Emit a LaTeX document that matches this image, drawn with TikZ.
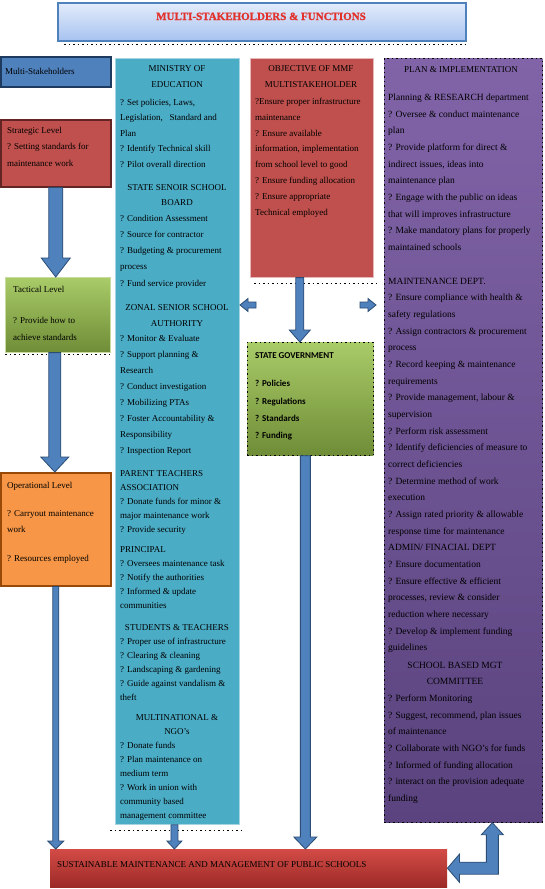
\documentclass[tikz,border=0pt]{standalone}
\usepackage{fontspec}
\setmainfont{Liberation Serif}
\newfontfamily\calib{Carlito}
\newfontfamily\headfont[FakeBold=1.2]{Liberation Serif}
\usetikzlibrary{calc}
\definecolor{titletop}{HTML}{E3ECFB}
\definecolor{titlebot}{HTML}{A7C3F0}
\definecolor{titleedge}{HTML}{4F81BD}
\definecolor{titlered}{HTML}{E2322B}
\definecolor{msblue}{HTML}{4F81BD}
\definecolor{msedge}{HTML}{1F3A5F}
\definecolor{redfill}{HTML}{C0504D}
\definecolor{rededge}{HTML}{632523}
\definecolor{redlight}{HTML}{E6B9B8}
\definecolor{greentop}{HTML}{A9CB68}
\definecolor{greenbot}{HTML}{6F8D37}
\definecolor{greenedge}{HTML}{C8DCA0}
\definecolor{orangefill}{HTML}{F79646}
\definecolor{orangeedge}{HTML}{984807}
\definecolor{cyanfill}{HTML}{4BACC6}
\definecolor{cyanedge}{HTML}{A5D5E2}
\definecolor{purptop}{HTML}{8164A8}
\definecolor{purpbot}{HTML}{5A437E}
\definecolor{bartop}{HTML}{D34B46}
\definecolor{barbot}{HTML}{9C2A27}
\definecolor{arrowfill}{HTML}{4F81BD}
\definecolor{arrowedge}{HTML}{2B4C74}
\newcommand\vblockarrow[5]{%
  \path[blockarrow] let \p1=(#1), \p2=(#2) in
    (\x1-#3,\y1) -- (\x1-#3,\y2+#5) -- (\x1-#4,\y2+#5) -- (\x1,\y2)
    -- (\x1+#4,\y2+#5) -- (\x1+#3,\y2+#5) -- (\x1+#3,\y1) -- cycle;}
\begin{document}
\begin{tikzpicture}[x=1pt,y=-1pt,
  boxnode/.style={rectangle, inner sep=0pt, anchor=north west},
  txt/.style={inner sep=0pt, anchor=north west, yshift=6.1pt, align=left, font=\fontsize{9}{#1}\selectfont},
  txt/.default=16,
  ctxt/.style={inner sep=0pt, anchor=north, yshift=6.1pt, align=center, font=\fontsize{9}{#1}\selectfont},
  ctxt/.default=16,
  stxt/.style={inner sep=0pt, anchor=base west, font=\fontsize{9}{12}\selectfont},
  sctxt/.style={inner sep=0pt, anchor=base, font=\fontsize{9}{12}\selectfont},
  rtxt/.style={inner sep=0pt, anchor=north west, yshift=6.4pt, align=left, font=\fontsize{9.5}{16.67}\selectfont},
  rctxt/.style={inner sep=0pt, anchor=north, yshift=6.4pt, align=center, font=\fontsize{9.5}{16.67}\selectfont},
  gtxt/.style={inner sep=0pt, anchor=north west, yshift=5.8pt, align=left, font=\calib\bfseries\fontsize{9}{17.3}\selectfont},
  dotline/.style={draw=black, line width=0.7pt, dash pattern=on 1.5pt off 3pt},
  blockarrow/.style={fill=arrowfill, draw=arrowedge, line width=0.8pt, line join=miter},
]
\fill[white] (0,0) rectangle (544,889);
\useasboundingbox (0,0) rectangle (544,889);

% ---------- title
\node[boxnode, minimum width=408pt, minimum height=38pt, top color=titletop, bottom color=titlebot, draw=titleedge, line width=1.5pt] (title) at (57,2) {};
\node[inner sep=0pt, anchor=base, font=\headfont\fontsize{11}{13}\selectfont\bfseries, text=titlered] (titletext) at (261,20) {MULTI-STAKEHOLDERS \& FUNCTIONS};
\draw[dotline] ([xshift=7pt,yshift=-3pt]title.south west) -- ([yshift=-3pt]title.south east);

% ---------- left column
\node[boxnode, minimum width=110pt, minimum height=30pt, fill=msblue, draw=msedge, line width=1.5pt] (ms) at (0,56) {};
\node[stxt] (mstext) at (5,74) {Multi-Stakeholders};

\node[boxnode, minimum width=110pt, minimum height=67pt, fill=redfill, draw=rededge, line width=1.5pt] (strat) at (0,119) {};
\node[txt=16.5] (strattext) at (7,133) {Strategic Level\\? Setting standards for\\maintenance work};

\node[boxnode, minimum width=105pt, minimum height=75pt, top color=greentop, bottom color=greenbot, draw=greenedge, line width=0.6pt] (tact) at (5,277) {};
\node[stxt] (tacttext) at (13,292) {Tactical Level};
\node[txt=17] (tacttextb) at (13,323) {? Provide how to\\achieve standards};
\draw[dotline] ([yshift=-1.5pt]tact.south west) -- ([yshift=-1.5pt]tact.south east);

\node[boxnode, minimum width=110pt, minimum height=113pt, fill=orangefill, draw=orangeedge, line width=1.5pt] (oper) at (0,472) {};
\node[stxt] (opertext) at (7,488) {Operational Level};
\node[txt=16] (opertextb) at (7,516) {? Carryout maintenance\\work};
\node[stxt] (opertextc) at (7,561) {? Resources employed};

% ---------- cyan column
\node[boxnode, minimum width=124pt, minimum height=766pt, fill=cyanfill, draw=cyanedge, line width=0.8pt] (cyan) at (115,58) {};
\draw[dotline] ([xshift=-5pt,yshift=-6pt]cyan.south west) -- ([xshift=5pt,yshift=-6pt]cyan.south east);
\node[ctxt=16] (c1h) at (177,71) {MINISTRY OF\\EDUCATION};
\node[txt=15.5] (c1) at (120,105) {? Set policies, Laws,\\Legislation,\ \ \ Standard and\\Plan\\? Identify Technical skill\\? Pilot overall direction};
\node[ctxt=15.5] (c2h) at (177,190) {STATE SENOIR SCHOOL\\BOARD};
\node[txt=16.2] (c2) at (120,221) {? Condition Assessment\\? Source for contractor\\? Budgeting \& procurement\\process\\? Fund service provider};
\node[ctxt=16] (c3h) at (177,310) {ZONAL SENIOR SCHOOL\\AUTHORITY};
\node[txt=16] (c3) at (120,341) {? Monitor \& Evaluate\\? Support planning \&\\Research\\? Conduct investigation\\? Mobilizing PTAs\\? Foster Accountability \&\\Responsibility\\? Inspection Report};
\node[txt=14] (c4) at (120,476) {PARENT TEACHERS\\ASSOCIATION\\? Donate funds for minor \&\\major maintenance work\\? Provide security};
\node[txt=14] (c5) at (120,552) {PRINCIPAL\\? Oversees maintenance task\\? Notify the authorities\\? Informed \& update\\communities};
\node[sctxt] (c6h) at (177,630) {STUDENTS \& TEACHERS};
\node[txt=14] (c6) at (120,644) {? Proper use of infrastructure\\? Clearing \& cleaning\\? Landscaping \& gardening\\? Guide against vandalism \&\\theft};
\node[ctxt=14] (c7h) at (177,720) {MULTINATIONAL \&\\NGO's};
\node[txt=14] (c7) at (120,748) {? Donate funds\\? Plan maintenance on\\medium term\\? Work in union with\\community based\\management committee};

% ---------- objective
\node[boxnode, minimum width=123pt, minimum height=219pt, fill=redfill, draw=redlight, line width=0.6pt] (obj) at (250,58) {};
\draw[dotline] ([xshift=4pt,yshift=-6pt]obj.south west) -- ([xshift=2pt,yshift=-6pt]obj.south east);
\node[ctxt=16] (o1h) at (311,71) {OBJECTIVE OF MMF\\MULTISTAKEHOLDER};
\node[txt=15.8] (o1) at (255,104) {?Ensure proper infrastructure\\maintenance\\? Ensure available\\information, implementation\\from school level to good\\? Ensure funding allocation\\? Ensure appropriate\\Technical employed};

% ---------- state government
\node[boxnode, minimum width=126pt, minimum height=113pt, top color=greentop, bottom color=greenbot, dotline] (sg) at (247,342) {};
\node[inner sep=0pt, anchor=base west, font=\calib\bfseries\fontsize{9}{12}\selectfont] (sgh) at (255,358) {STATE GOVERNMENT};
\node[gtxt] (sgt) at (255,386) {? Policies\\? Regulations\\? Standards\\? Funding};

% ---------- purple column
\node[boxnode, minimum width=158pt, minimum height=764pt, top color=purptop, bottom color=purpbot, dotline] (purp) at (384,58) {};
\node[sctxt] (p0) at (461,72) {PLAN \& IMPLEMENTATION};
\node[rtxt] (p1) at (388,100) {Planning \& RESEARCH department\\? Oversee \& conduct maintenance\\plan\\? Provide platform for direct \&\\indirect issues, ideas into\\maintenance plan\\? Engage with the public on ideas\\that will improves infrastructure\\? Make mandatory plans for properly\\maintained schools};
\node[rtxt] (p2) at (388,284) {MAINTENANCE DEPT.\\? Ensure compliance with health \&\\safety regulations\\? Assign contractors \& procurement\\process\\? Record keeping \& maintenance\\requirements\\? Provide management, labour \&\\supervision\\? Perform risk assessment\\? Identify deficiencies of measure to\\correct deficiencies\\? Determine method of work\\execution\\? Assign rated priority \& allowable\\response time for maintenance\\ADMIN/ FINACIAL DEPT\\? Ensure documentation\\? Ensure effective \& efficient\\processes, review \& consider\\reduction where necessary\\? Develop \& implement funding\\guidelines};
\node[rctxt] (p3h) at (455,668) {SCHOOL BASED MGT\\COMMITTEE};
\node[rtxt] (p3) at (388,701) {? Perform Monitoring\\? Suggest, recommend, plan issues\\of maintenance\\? Collaborate with NGO's for funds\\? Informed of funding allocation\\? interact on the provision adequate\\funding};

% ---------- bottom bar
\node[boxnode, minimum width=397pt, minimum height=38pt, top color=bartop, bottom color=barbot] (bar) at (50,849) {};
\draw[dotline] ([yshift=-2pt]bar.south west) -- ([xshift=-6pt,yshift=-2pt]bar.south east);
\node[stxt] (bartext) at (57,867) {SUSTAINABLE MAINTENANCE AND MANAGEMENT OF PUBLIC SCHOOLS};

% ---------- arrows
\vblockarrow{strat.south}{tact.north}{7pt}{14.5pt}{19pt}
\vblockarrow{[xshift=-3pt]tact.south}{oper.north}{6pt}{14pt}{15pt}
\vblockarrow{oper.south}{bar.north}{3pt}{8pt}{8pt}
\vblockarrow{[xshift=-3pt]cyan.south}{bar.north}{3.5pt}{7.5pt}{8pt}
\vblockarrow{[xshift=-12pt]obj.south}{sg.north}{4pt}{10.5pt}{12pt}
\vblockarrow{[xshift=-5pt]sg.south}{bar.north}{5pt}{11.5pt}{12pt}

\coordinate (la1) at (256,305);
\coordinate (la2) at (240,305);
\coordinate (ra1) at (360,305);
\coordinate (ra2) at (376,305);
\path[blockarrow] let \p1=(la1), \p2=(la2) in
  (\x1,\y1+3pt) -- (\x2+8pt,\y1+3pt) -- (\x2+8pt,\y1+6.5pt) -- (\x2,\y1)
  -- (\x2+8pt,\y1-6.5pt) -- (\x2+8pt,\y1-3pt) -- (\x1,\y1-3pt) -- cycle;
\path[blockarrow] let \p1=(ra1), \p2=(ra2) in
  (\x1,\y1+3pt) -- (\x2-8pt,\y1+3pt) -- (\x2-8pt,\y1+6.5pt) -- (\x2,\y1)
  -- (\x2-8pt,\y1-6.5pt) -- (\x2-8pt,\y1-3pt) -- (\x1,\y1-3pt) -- cycle;

\path[blockarrow] let \p1=(bar.east), \p2=([xshift=29pt]purp.south) in
  (\x1,\y1) -- (\x1+12pt,\y1+14pt) -- (\x1+12pt,\y1+6pt) -- (\x2-6pt,\y1+6pt)
  -- (\x2-6pt,\y2-12pt) -- (\x2-11pt,\y2-12pt) -- (\x2,\y2) -- (\x2+11pt,\y2-12pt)
  -- (\x2+6pt,\y2-12pt) -- (\x2+6pt,\y1-6pt) -- (\x1+12pt,\y1-6pt) -- (\x1+12pt,\y1-14pt) -- cycle;
\end{tikzpicture}
\end{document}
